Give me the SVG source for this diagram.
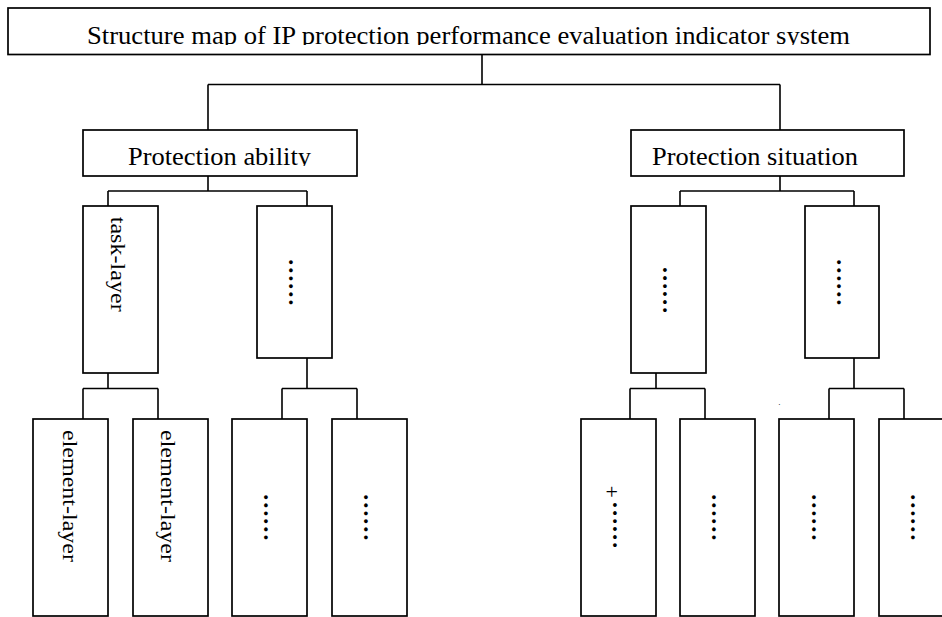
<svg xmlns="http://www.w3.org/2000/svg" width="942" height="617" viewBox="0 0 942 617">
  <style>
    .box { fill: #ffffff; stroke: #000000; stroke-width: 1.7; }
    .conn { fill: none; stroke: #000000; stroke-width: 1.6; }
    .lbl { font-family: "Liberation Serif", "Times New Roman", serif; font-size: 26px; fill: #000000; }
    .vlbl { font-family: "Liberation Serif", "Times New Roman", serif; font-size: 20px; fill: #000000; }
    .dots { font-family: "Liberation Serif", "Times New Roman", serif; font-size: 24px; font-weight: bold; fill: #000000; }
    .mark { font-family: "Liberation Serif", "Times New Roman", serif; fill: #000000; }
  </style>
  <defs>
    <clipPath id="clipTitle"><rect x="0" y="0" width="942" height="45"/></clipPath>
    <clipPath id="clipMid"><rect x="0" y="120" width="942" height="46"/></clipPath>
  </defs>
  <rect x="0" y="0" width="942" height="617" fill="#ffffff"/>

  <g id="connectors">
    <path class="conn" d="M482 54.5 V84.5 M208 84.5 H780 M208 84.5 V130 M780 84.5 V130"/>
    <path class="conn" d="M208 176 V191 M108 191 H307 M108 191 V206 M307 191 V206"/>
    <path class="conn" d="M780 176 V191 M680 191 H854 M680 191 V206 M854 191 V206"/>
    <path class="conn" d="M108 373 V388.5 M83 388.5 H158 M83 388.5 V419 M158 388.5 V419"/>
    <path class="conn" d="M307 358 V388.5 M282 388.5 H357 M282 388.5 V419 M357 388.5 V419"/>
    <path class="conn" d="M656 373 V388.5 M630 388.5 H705 M630 388.5 V419 M705 388.5 V419"/>
    <path class="conn" d="M854 358 V388.5 M829 388.5 H904 M829 388.5 V419 M904 388.5 V419"/>
  </g>

  <g id="title">
    <rect class="box" x="8" y="8" width="922" height="46.5"/>
    <text class="lbl" x="87" y="44" textLength="763" lengthAdjust="spacingAndGlyphs" clip-path="url(#clipTitle)">Structure map of IP protection performance evaluation indicator system</text>
  </g>

  <g id="protection-ability">
    <rect class="box" x="83" y="130" width="274" height="46"/>
    <text class="lbl" x="128" y="165" textLength="183" lengthAdjust="spacingAndGlyphs" clip-path="url(#clipMid)">Protection ability</text>
  </g>

  <g id="protection-situation">
    <rect class="box" x="631" y="130" width="273" height="46"/>
    <text class="lbl" x="652" y="165" textLength="206" lengthAdjust="spacingAndGlyphs" clip-path="url(#clipMid)">Protection situation</text>
  </g>

  <g id="task-layer">
    <rect class="box" x="83" y="206" width="75" height="167"/>
    <text class="vlbl" transform="translate(110.8,216.7) rotate(90)" textLength="95" lengthAdjust="spacingAndGlyphs">task-layer</text>
  </g>

  <g id="pa-other">
    <rect class="box" x="257" y="206" width="75" height="152"/>
    <text class="dots" transform="translate(288.5,258.3) rotate(90)">……</text>
  </g>

  <g id="ps-first">
    <rect class="box" x="631" y="206" width="75" height="167"/>
    <text class="dots" transform="translate(662.5,266) rotate(90)">……</text>
  </g>

  <g id="ps-second">
    <rect class="box" x="805" y="206" width="74" height="152"/>
    <text class="dots" transform="translate(836.5,258.3) rotate(90)">……</text>
  </g>

  <g id="element-layer-1">
    <rect class="box" x="33" y="419" width="75" height="197"/>
    <text class="vlbl" transform="translate(62.6,430) rotate(90)" textLength="132" lengthAdjust="spacingAndGlyphs">element-layer</text>
  </g>

  <g id="element-layer-2">
    <rect class="box" x="133" y="419" width="75" height="197"/>
    <text class="vlbl" transform="translate(161,430) rotate(90)" textLength="132" lengthAdjust="spacingAndGlyphs">element-layer</text>
  </g>

  <g id="pa-other-1">
    <rect class="box" x="232" y="419" width="75" height="197"/>
    <text class="dots" transform="translate(264.2,493.3) rotate(90)">……</text>
  </g>

  <g id="pa-other-2">
    <rect class="box" x="332" y="419" width="75" height="197"/>
    <text class="dots" transform="translate(364.2,493.3) rotate(90)">……</text>
  </g>

  <g id="ps-first-1">
    <rect class="box" x="581" y="419" width="75" height="197"/>
    <text class="mark" x="611.7" y="499" font-size="22" text-anchor="middle">+</text>
    <text class="dots" transform="translate(612.8,501) rotate(90)">……</text>
  </g>

  <g id="ps-first-2">
    <rect class="box" x="680" y="419" width="75" height="197"/>
    <text class="dots" transform="translate(712.2,493.3) rotate(90)">……</text>
  </g>

  <g id="ps-second-1">
    <rect class="box" x="779" y="419" width="75" height="197"/>
    <text class="dots" transform="translate(811.8,493.3) rotate(90)">……</text>
  </g>

  <g id="ps-second-2">
    <rect class="box" x="879" y="419" width="75" height="197"/>
    <text class="dots" transform="translate(911.2,493.3) rotate(90)">……</text>
  </g>

  <text class="mark" x="778.3" y="405" font-size="9">.</text>
</svg>
